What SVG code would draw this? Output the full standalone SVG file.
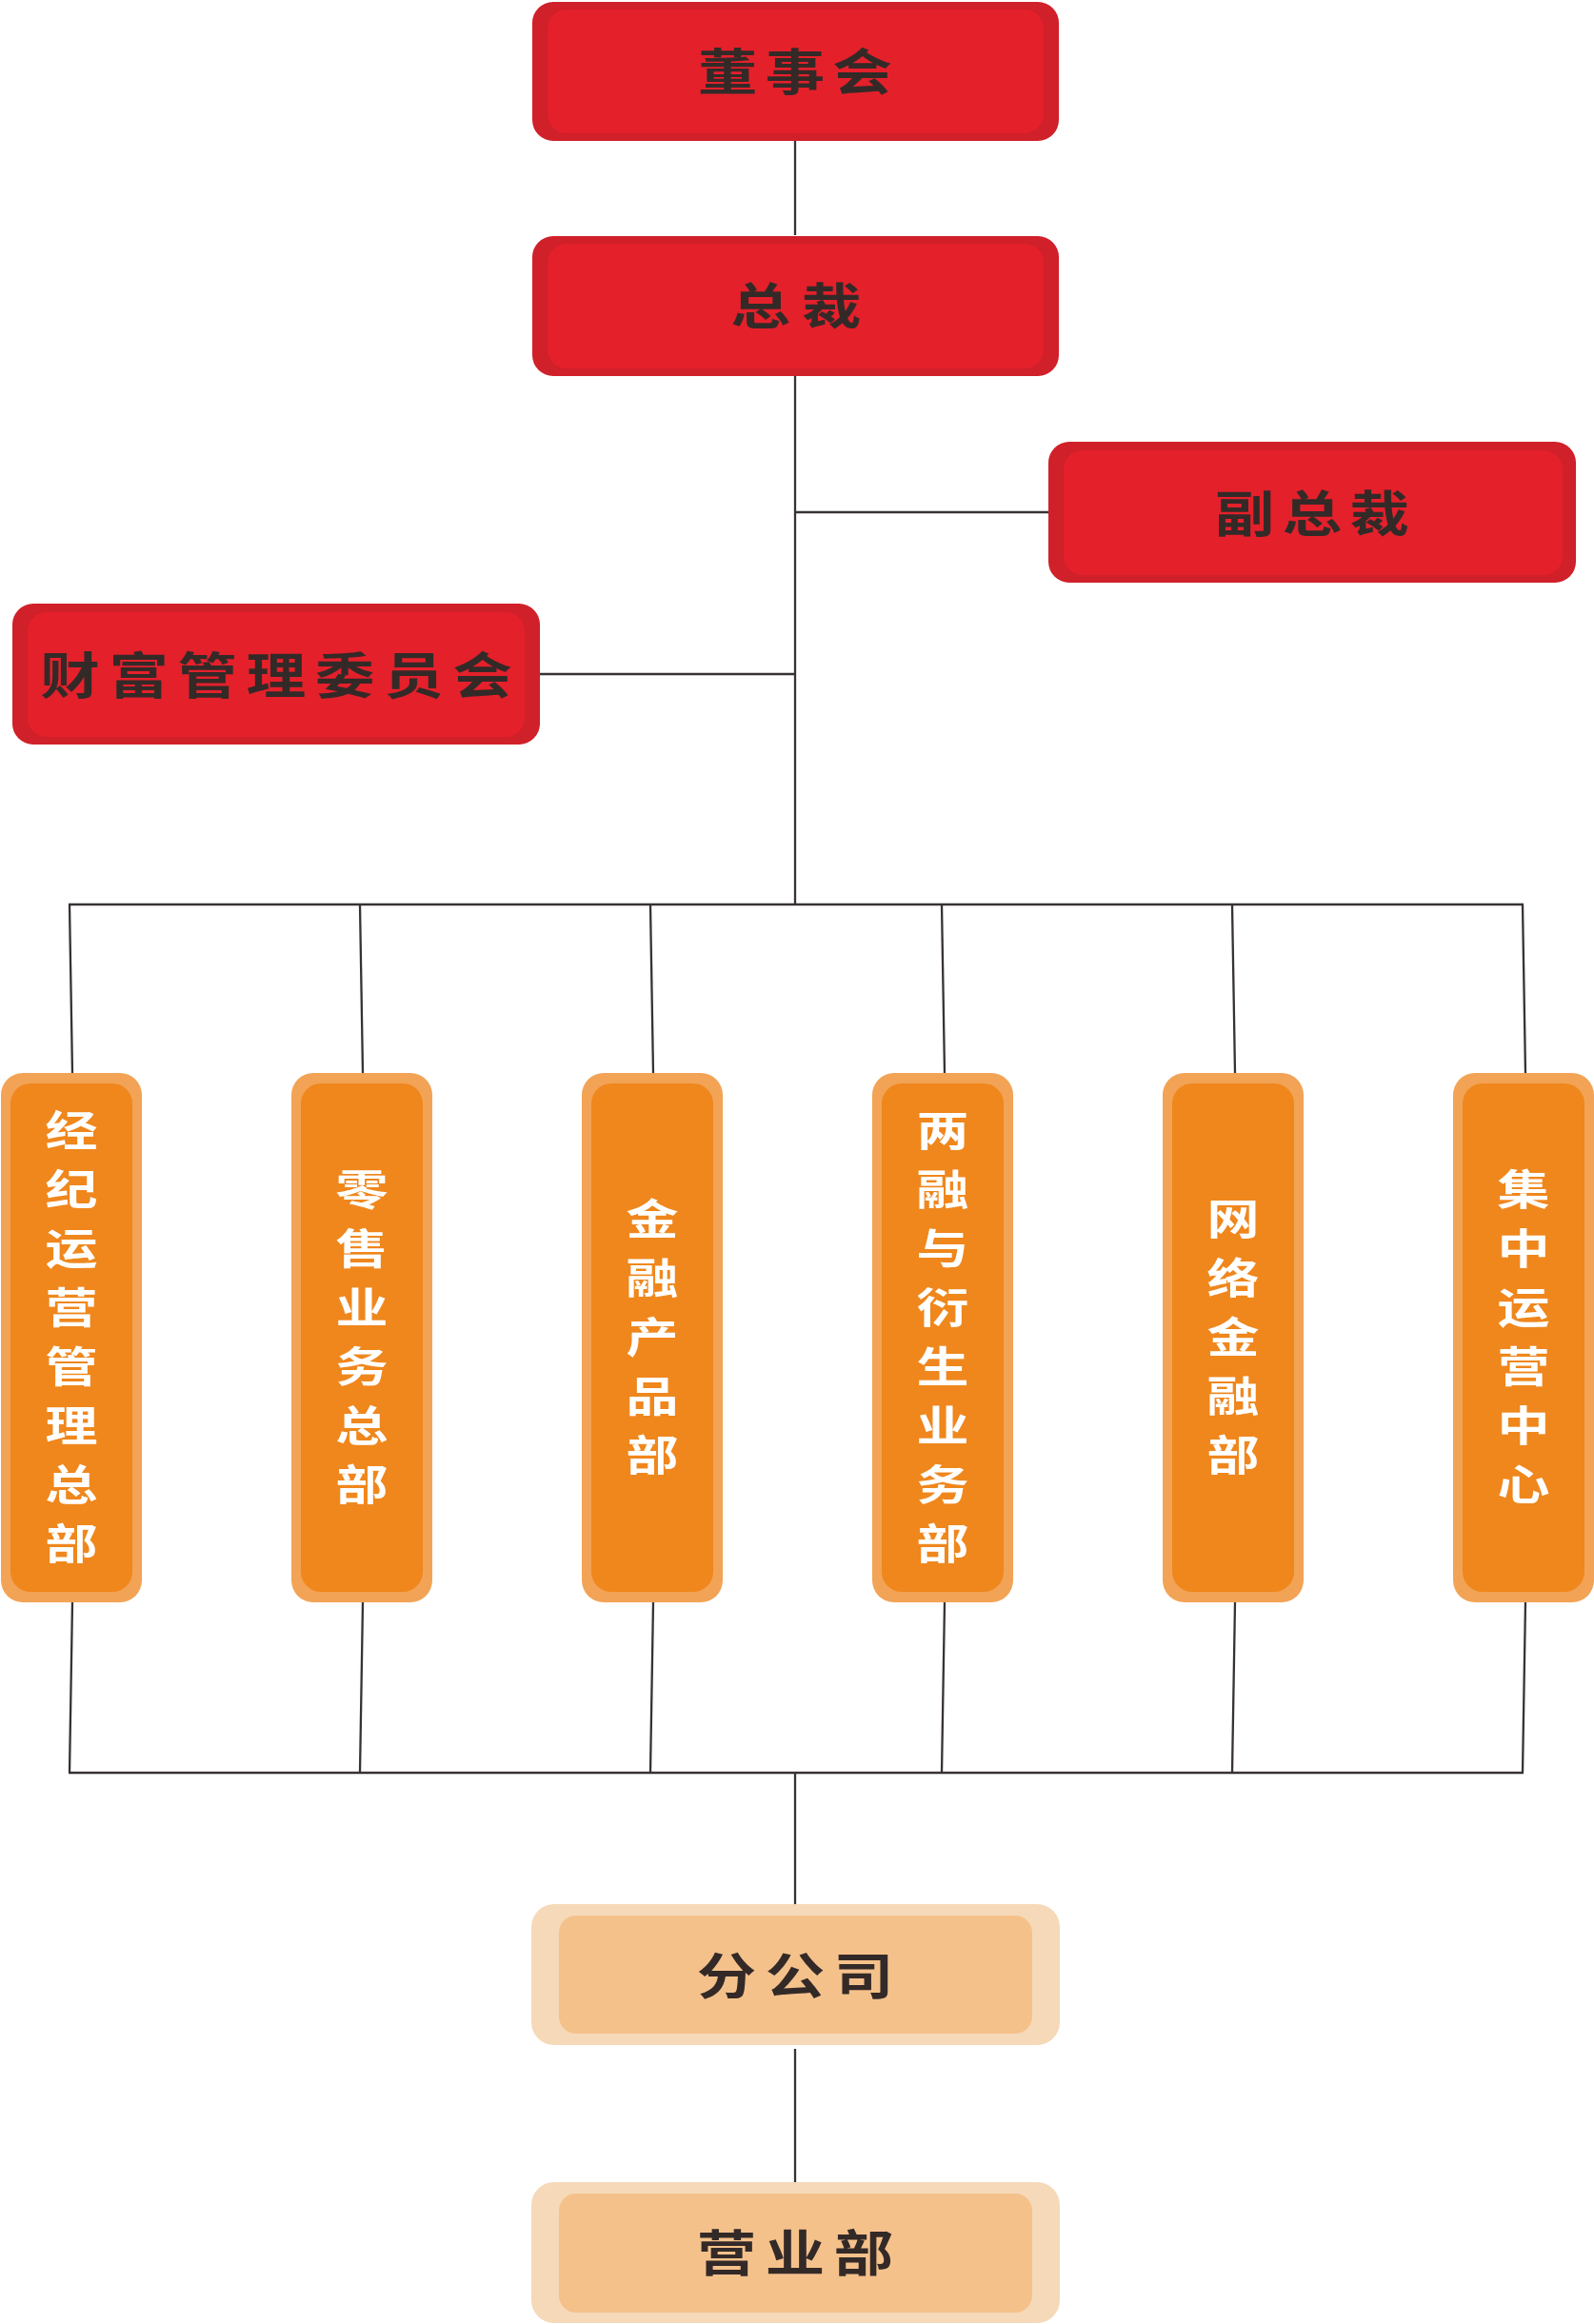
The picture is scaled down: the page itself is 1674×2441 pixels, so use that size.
<svg xmlns="http://www.w3.org/2000/svg" width="1674" height="2441" viewBox="0 0 1674 2441">
<style>
.line{stroke:#383233;stroke-width:2.3;fill:none;stroke-linecap:butt}
.redO{fill:#d02029}
.redI{fill:#e4202b}
.orO{fill:#f2a355}
.orI{fill:#ef871d}
.peO{fill:#f5d9b9}
.peI{fill:#f5c18b}
.dk{font-family:"Noto Sans CJK SC","Noto Sans CJK TC",sans-serif;font-weight:700;font-size:52px;fill:#332a28;text-anchor:middle;dominant-baseline:central}
.wt{font-family:"Noto Sans CJK SC","Noto Sans CJK TC",sans-serif;font-weight:700;font-size:44px;fill:#ffffff;text-anchor:middle;dominant-baseline:central}
</style>
<rect width="1674" height="2441" fill="#ffffff"/>
<g id="connectors">
<line class="line" x1="835" y1="148" x2="835" y2="247"/>
<line class="line" x1="835" y1="395" x2="835" y2="950"/>
<line class="line" x1="835" y1="538" x2="1101" y2="538"/>
<line class="line" x1="567" y1="708" x2="835" y2="708"/>
<line class="line" x1="72" y1="950" x2="1600" y2="950"/>
<line class="line" x1="73" y1="950" x2="76" y2="1127"/>
<line class="line" x1="378" y1="950" x2="381" y2="1127"/>
<line class="line" x1="683" y1="950" x2="686" y2="1127"/>
<line class="line" x1="989" y1="950" x2="992" y2="1127"/>
<line class="line" x1="1294" y1="950" x2="1297" y2="1127"/>
<line class="line" x1="1599" y1="950" x2="1602" y2="1127"/>
<line class="line" x1="76" y1="1683" x2="73" y2="1862"/>
<line class="line" x1="381" y1="1683" x2="378" y2="1862"/>
<line class="line" x1="686" y1="1683" x2="683" y2="1862"/>
<line class="line" x1="992" y1="1683" x2="989" y2="1862"/>
<line class="line" x1="1297" y1="1683" x2="1294" y2="1862"/>
<line class="line" x1="1602" y1="1683" x2="1599" y2="1862"/>
<line class="line" x1="72" y1="1862" x2="1600" y2="1862"/>
<line class="line" x1="835" y1="1862" x2="835" y2="2000"/>
<line class="line" x1="835" y1="2152" x2="835" y2="2292"/>
</g>
<g id="node-board">
<rect class="redO" x="559" y="2" width="553" height="146" rx="22"/>
<rect class="redI" x="575" y="10" width="521" height="130" rx="20"/>
<g transform="translate(835,72) scale(1.2,1)"><text class="dk" x="-59 0 59" y="0 0 0">董事会</text></g>
</g>
<g id="node-president">
<rect class="redO" x="559" y="248" width="553" height="147" rx="22"/>
<rect class="redI" x="575" y="256" width="521" height="131" rx="20"/>
<g transform="translate(836,318) scale(1.2,1)"><text class="dk" x="-31 31" y="0 0">总裁</text></g>
</g>
<g id="node-vp">
<rect class="redO" x="1101" y="464" width="554" height="148" rx="22"/>
<rect class="redI" x="1117" y="473" width="524" height="131" rx="20"/>
<g transform="translate(1378,536) scale(1.2,1)"><text class="dk" x="-59 0 59" y="0 0 0">副总裁</text></g>
</g>
<g id="node-wealth">
<rect class="redO" x="13" y="634" width="554" height="148" rx="22"/>
<rect class="redI" x="29" y="643" width="522" height="131" rx="20"/>
<g transform="translate(290,706) scale(1.2,1)"><text class="dk" x="-180.5 -120.3 -60.2 0 60.2 120.3 180.5" y="0 0 0 0 0 0 0">财富管理委员会</text></g>
</g>
<g id="node-dept1">
<rect class="orO" x="1" y="1127" width="148" height="556" rx="23"/>
<rect class="orI" x="11" y="1138" width="128" height="534" rx="21"/>
<g transform="translate(75,-3) scale(1.25,1)"><text class="wt" x="0 0 0 0 0 0 0 0" y="1188 1250 1312 1374 1436 1498 1560 1622">经纪运营管理总部</text></g>
</g>
<g id="node-dept2">
<rect class="orO" x="306" y="1127" width="148" height="556" rx="23"/>
<rect class="orI" x="316" y="1138" width="128" height="534" rx="21"/>
<g transform="translate(380,-3) scale(1.25,1)"><text class="wt" x="0 0 0 0 0 0" y="1250 1312 1374 1436 1498 1560">零售业务总部</text></g>
</g>
<g id="node-dept3">
<rect class="orO" x="611" y="1127" width="148" height="556" rx="23"/>
<rect class="orI" x="621" y="1138" width="128" height="534" rx="21"/>
<g transform="translate(685,-3) scale(1.25,1)"><text class="wt" x="0 0 0 0 0" y="1281 1343 1405 1467 1529">金融产品部</text></g>
</g>
<g id="node-dept4">
<rect class="orO" x="916" y="1127" width="148" height="556" rx="23"/>
<rect class="orI" x="926" y="1138" width="128" height="534" rx="21"/>
<g transform="translate(990,-3) scale(1.25,1)"><text class="wt" x="0 0 0 0 0 0 0 0" y="1188 1250 1312 1374 1436 1498 1560 1622">两融与衍生业务部</text></g>
</g>
<g id="node-dept5">
<rect class="orO" x="1221" y="1127" width="148" height="556" rx="23"/>
<rect class="orI" x="1231" y="1138" width="128" height="534" rx="21"/>
<g transform="translate(1295,-3) scale(1.25,1)"><text class="wt" x="0 0 0 0 0" y="1281 1343 1405 1467 1529">网络金融部</text></g>
</g>
<g id="node-dept6">
<rect class="orO" x="1526" y="1127" width="148" height="556" rx="23"/>
<rect class="orI" x="1536" y="1138" width="128" height="534" rx="21"/>
<g transform="translate(1600,-3) scale(1.25,1)"><text class="wt" x="0 0 0 0 0 0" y="1250 1312 1374 1436 1498 1560">集中运营中心</text></g>
</g>
<g id="node-branch">
<rect class="peO" x="558" y="2000" width="555" height="148" rx="24"/>
<rect class="peI" x="587" y="2012" width="497" height="124" rx="18"/>
<g transform="translate(835,2072) scale(1.2,1)"><text class="dk" x="-60 0 60" y="0 0 0">分公司</text></g>
</g>
<g id="node-office">
<rect class="peO" x="558" y="2292" width="555" height="148" rx="24"/>
<rect class="peI" x="587" y="2304" width="497" height="125" rx="18"/>
<g transform="translate(835,2363) scale(1.2,1)"><text class="dk" x="-60 0 60" y="0 0 0">营业部</text></g>
</g>
</svg>
